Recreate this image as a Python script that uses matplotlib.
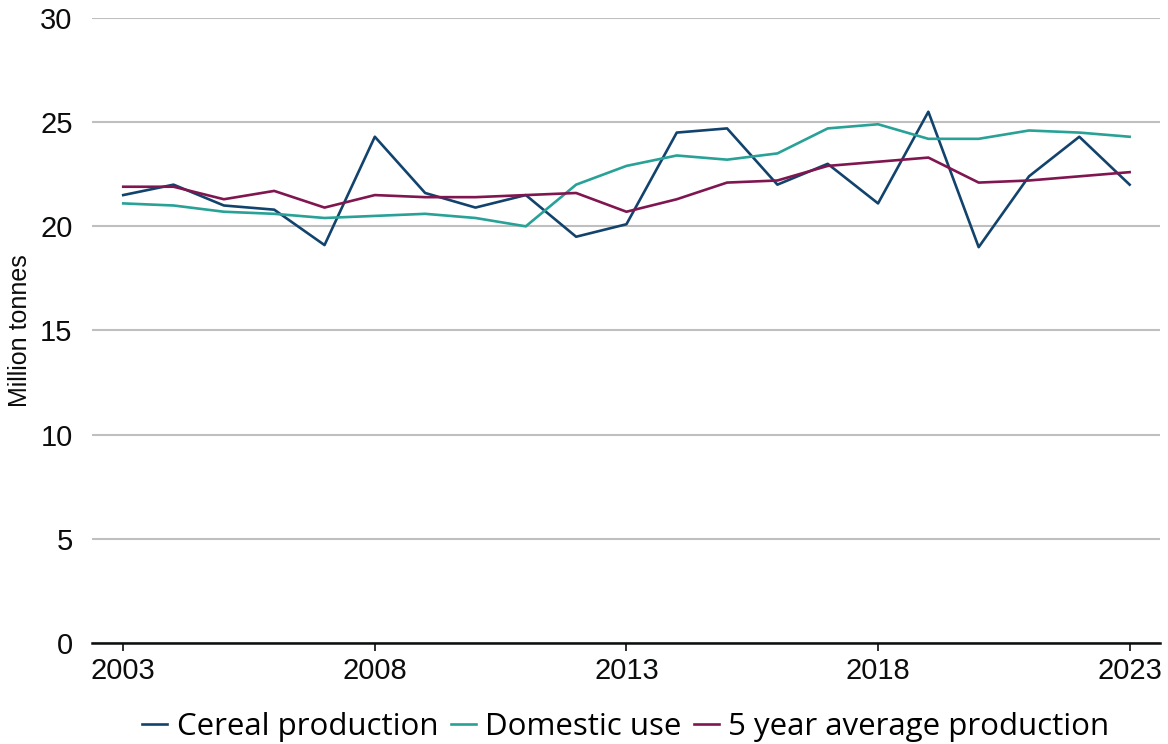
import matplotlib
matplotlib.use("Agg")
from matplotlib import pyplot as plt

years = list(range(2003, 2024))
cereal_production = [21.5, 22.0, 21.0, 20.8, 19.1, 24.3, 21.6, 20.9, 21.5, 19.5, 20.1,
                     24.5, 24.7, 22.0, 23.0, 21.1, 25.5, 19.0, 22.4, 24.3, 22.0]
domestic_use = [21.1, 21.0, 20.7, 20.6, 20.4, 20.5, 20.6, 20.4, 20.0, 22.0, 22.9,
                23.4, 23.2, 23.5, 24.7, 24.9, 24.2, 24.2, 24.6, 24.5, 24.3]
five_year_avg = [21.9, 21.9, 21.3, 21.7, 20.9, 21.5, 21.4, 21.4, 21.5, 21.6, 20.7,
                 21.3, 22.1, 22.2, 22.9, 23.1, 23.3, 22.1, 22.2, 22.4, 22.6]
x_ticks = [2003, 2008, 2013, 2018, 2023]
y_ticks = [0, 5, 10, 15, 20, 25, 30]

plt.rcParams['font.family'] = ['Liberation Sans', 'DejaVu Sans']
ink = "#0b0c0c"

fig = plt.figure(figsize=(11.68, 7.44), dpi=100)
ax = fig.add_axes([0.0788, 0.1358, 0.9142, 0.84])

ax.plot(years, cereal_production, color="#12436D", lw=1.9, label="Cereal production")
ax.plot(years, domestic_use, color="#28A197", lw=1.9, label="Domestic use")
ax.plot(years, five_year_avg, color="#801650", lw=1.9, label="5 year average production")

ax.set_xlim(2002.38, 2023.6)
ax.set_ylim(0, 30)
ax.set_yticks(y_ticks)
ax.set_xticks(x_ticks)
ax.yaxis.grid(True, color="#bfbfbf", lw=1.5)
ax.set_axisbelow(True)
for s in ["left", "right", "top"]:
    ax.spines[s].set_visible(False)
ax.spines["bottom"].set_linewidth(1.8)
ax.spines["bottom"].set_color(ink)
ax.tick_params(axis="y", length=0, labelsize=21, pad=14, colors=ink)
ax.tick_params(axis="x", length=6, width=1.2, labelsize=21, pad=4, colors=ink)
ax.set_ylabel("Million tonnes", fontsize=18, color=ink, labelpad=6)

ax.legend(loc="center", bbox_to_anchor=(0.5, -0.134), ncol=3, frameon=False,
          prop={"family": ["Open Sans", "DejaVu Sans"], "size": 22.5},
          handlelength=0.8, handletextpad=0.3, columnspacing=0.4)

fig.savefig("out.png", dpi=100)
